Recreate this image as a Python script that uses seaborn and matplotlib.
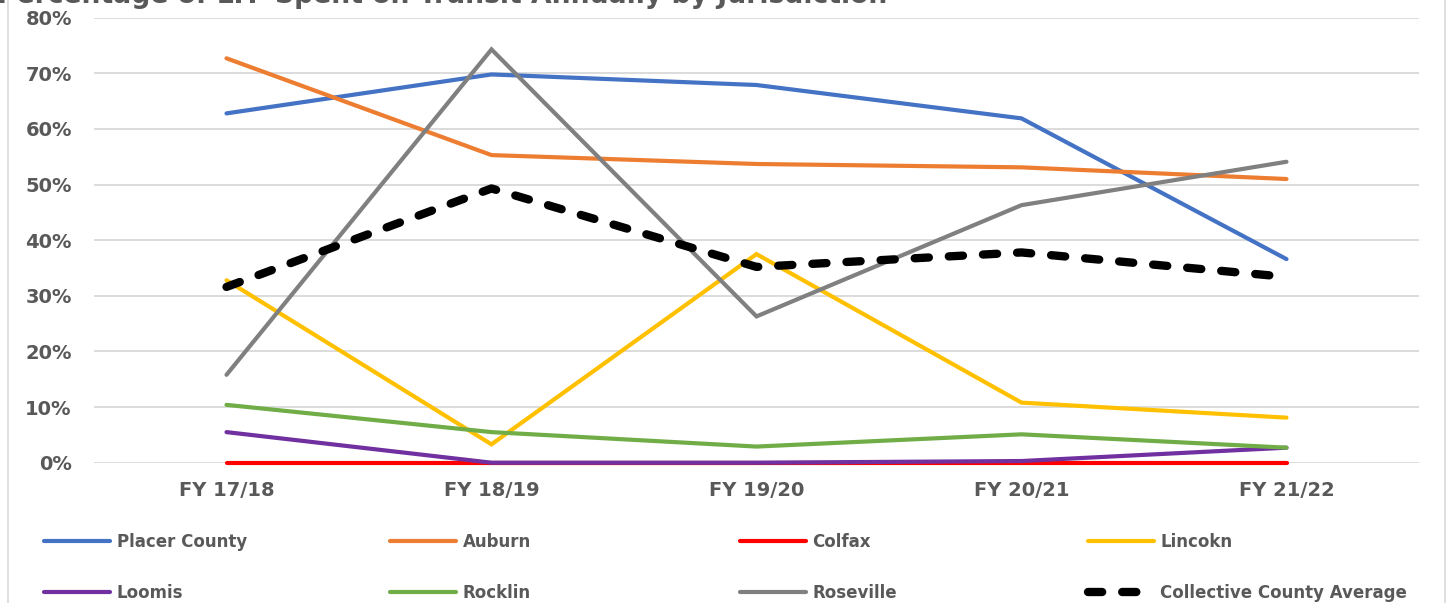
import numpy as np
import pandas as pd
import matplotlib
matplotlib.use("Agg")
import matplotlib.pyplot as plt
import seaborn as sns
from matplotlib.patches import Rectangle
from matplotlib.ticker import PercentFormatter

# ---- data (percent of LTF spent on transit) ----
years = ["FY 17/18", "FY 18/19", "FY 19/20", "FY 20/21", "FY 21/22"]
placer_county = [62.8, 69.8, 67.9, 61.9, 36.6]
auburn = [72.7, 55.3, 53.7, 53.1, 51.0]
colfax = [0.0, 0.0, 0.0, 0.0, 0.0]
lincoln = [32.8, 3.3, 37.5, 10.8, 8.1]
loomis = [5.5, 0.0, 0.0, 0.3, 2.7]
rocklin = [10.4, 5.5, 2.9, 5.1, 2.7]
roseville = [15.8, 74.3, 26.3, 46.3, 54.1]
county_average = [31.6, 49.3, 35.2, 37.8, 33.4]

series_names = ["Placer County", "Auburn", "Colfax", "Lincokn", "Loomis",
                "Rocklin", "Roseville", "Collective County Average"]
series_values = [placer_county, auburn, colfax, lincoln, loomis,
                 rocklin, roseville, county_average]
colors = ["#4472C4", "#ED7D31", "#FF0000", "#FFC000", "#7030A0",
          "#70AD47", "#808080", "#000000"]

title = "Percentage of LTF Spent on Transit Annually by Jurisdiction"

df = pd.DataFrame({
    "Year": years * len(series_names),
    "Series": np.repeat(series_names, len(years)),
    "Value": np.concatenate(series_values) / 100.0,
})

sns.set_style("white")
plt.rcParams["font.family"] = ["DejaVu Sans"]

W, H = 1450, 603
fig = plt.figure(figsize=(W / 100, H / 100), dpi=100)
ax = fig.add_axes([94 / W, 1 - 462.7 / H, (1419 - 94) / W, (462.7 - 17.7) / H])

text_color = "#595959"

for name, color in zip(series_names, colors):
    sub = df[df["Series"] == name]
    is_avg = name == "Collective County Average"
    sns.lineplot(data=sub, x="Year", y="Value", color=color, ax=ax,
                 label=name, sort=False, linewidth=6.0 if is_avg else 3.0,
                 clip_on=False, zorder=3)
    ln = ax.lines[-1]
    if is_avg:
        ln.set_dashes((1.7, 2.4))
        ln.set_dash_capstyle("round")
    else:
        ln.set_solid_capstyle("round")
    ln.set_solid_joinstyle("miter")

handles, labels = ax.get_legend_handles_labels()
if ax.get_legend() is not None:
    ax.get_legend().remove()

ax.set_xlim(-0.5, len(years) - 0.5)
ax.set_ylim(0, 0.8)
ax.set_yticks(np.arange(0, 0.81, 0.1))
ax.yaxis.set_major_formatter(PercentFormatter(1.0, decimals=0))
ax.grid(axis="y", color="#D9D9D9", linewidth=1.3, zorder=0)
ax.grid(axis="x", visible=False)
ax.set_axisbelow(True)
for s in ax.spines.values():
    s.set_visible(False)
ax.set_xlabel("")
ax.set_ylabel("")
ax.tick_params(axis="y", length=0, pad=16, labelsize=14, labelcolor=text_color)
ax.tick_params(axis="x", length=0, pad=13, labelsize=14, labelcolor=text_color)
for t in ax.get_xticklabels() + ax.get_yticklabels():
    t.set_fontweight("bold")

# legend: four columns of two rows
col_x = [44, 390, 740, 1088]
for c in range(4):
    hs = [handles[c], handles[c + 4]]
    ls = [labels[c], labels[c + 4]]
    leg = fig.legend(hs, ls, loc="upper left",
                     bbox_to_anchor=(col_x[c] / W, 1 - 533 / H),
                     frameon=False, borderpad=0, borderaxespad=0,
                     handlelength=3.95, handletextpad=0.4,
                     labelspacing=2.0,
                     prop={"weight": "bold", "size": 12})
    for t in leg.get_texts():
        t.set_color(text_color)

# title (clipped at the top edge, as in the original)
fig.text(-3 / W, 1 - 3 / H, title, fontsize=19.2, fontweight="bold",
         color=text_color, va="baseline", ha="left")

# chart-area border (only the sides are visible)
fig.patches.append(Rectangle((8 / W, -0.05), (1445 - 8) / W, 1.2,
                             transform=fig.transFigure, fill=False,
                             edgecolor="#D9D9D9", linewidth=1.2))

fig.savefig("out.png", dpi=100)
